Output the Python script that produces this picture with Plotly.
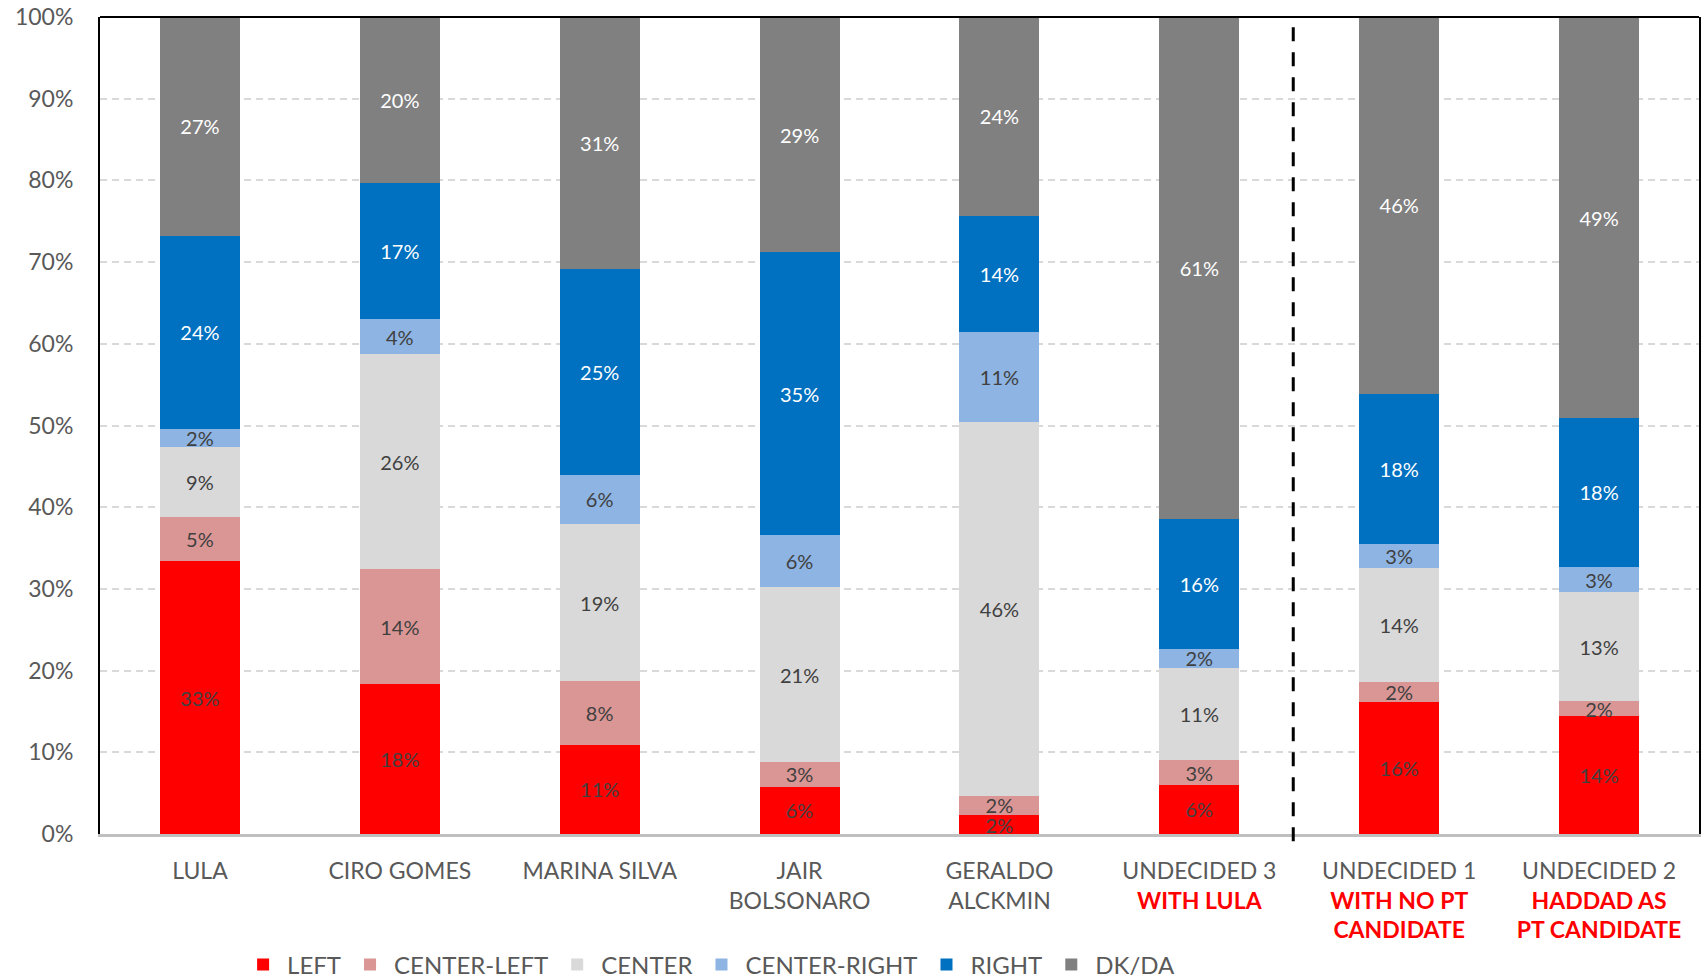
import plotly.graph_objects as go

# categorias (eixo x) - texto com sublinha em vermelho para os "undecided"
categories = [
    "LULA",
    "CIRO GOMES",
    "MARINA SILVA",
    "JAIR<br>BOLSONARO",
    "GERALDO<br>ALCKMIN",
    "UNDECIDED 3<br><span style='color:#FF0000'><b>WITH LULA</b></span>",
    "UNDECIDED 1<br><span style='color:#FF0000'><b>WITH NO PT<br>CANDIDATE</b></span>",
    "UNDECIDED 2<br><span style='color:#FF0000'><b>HADDAD AS<br>PT CANDIDATE</b></span>",
]

# valores (%)
left = [33.4, 18.3, 10.9, 5.8, 2.3, 6.0, 16.2, 14.4]
center_left = [5.4, 14.1, 7.8, 3.0, 2.4, 3.0, 2.4, 1.9]
center = [8.6, 26.3, 19.2, 21.4, 45.7, 11.3, 13.9, 13.3]
center_right = [2.2, 4.3, 6.1, 6.4, 11.0, 2.4, 3.0, 3.1]
right = [23.6, 16.7, 25.1, 34.6, 14.3, 15.9, 18.4, 18.2]
dk_da = [26.8, 20.3, 30.9, 28.8, 24.3, 61.4, 46.1, 49.1]

y_ticks = list(range(0, 101, 10))
y_ticktext = [f"{t}%" for t in y_ticks]

series = [
    ("LEFT", left, "#FF0000", "#404040"),
    ("CENTER-LEFT", center_left, "#DA9694", "#404040"),
    ("CENTER", center, "#D9D9D9", "#404040"),
    ("CENTER-RIGHT", center_right, "#8DB4E2", "#404040"),
    ("RIGHT", right, "#0070C0", "#FFFFFF"),
    ("DK/DA", dk_da, "#808080", "#FFFFFF"),
]

FONT = "Lato, 'Open Sans', sans-serif"
GRAY = "#595959"

fig = go.Figure()
for name, vals, color, txtcolor in series:
    fig.add_trace(go.Bar(
        x=categories, y=vals, name=name,
        marker=dict(color=color, line=dict(width=0)),
        text=[f"{v:.0f}%" for v in vals],
        textposition="inside",
        insidetextanchor="middle",
        constraintext="none",
        textangle=0,
        cliponaxis=False,
        textfont=dict(family=FONT, size=20, color=txtcolor),
        hoverinfo="skip",
    ))

# linha tracejada separando os cenários
fig.add_shape(type="line", xref="x", yref="paper", x0=5.47, x1=5.47, y0=-0.009, y1=1,
              line=dict(color="black", width=3, dash="14px,11px"))
# borda superior
fig.add_shape(type="line", xref="paper", yref="paper", x0=0, x1=1, y0=1, y1=1,
              line=dict(color="black", width=2))

fig.update_layout(
    barmode="stack",
    bargap=0.6,
    width=1701, height=978,
    margin=dict(l=100, r=2, t=17, b=144),
    paper_bgcolor="white",
    plot_bgcolor="white",
    font=dict(family=FONT, color=GRAY, size=23),
    # legenda posicionada pelo container, para não empurrar a margem inferior
    legend=dict(
        orientation="h", x=0.087, xanchor="left",
        yref="container", y=0.0135, yanchor="middle",
        font=dict(family=FONT, size=24, color=GRAY),
        traceorder="normal", itemwidth=38,
    ),
    yaxis=dict(
        range=[0, 100], tickvals=y_ticks, ticktext=y_ticktext,
        showgrid=True, gridcolor="#D9D9D9", griddash="7px,5px", gridwidth=1.5,
        showline=True, linecolor="black", linewidth=2, mirror=True,
        zeroline=False, ticks="", ticklabelstandoff=20, automargin=False,
        tickfont=dict(family=FONT, size=23, color=GRAY),
    ),
    xaxis=dict(
        showline=True, linecolor="#BFBFBF", linewidth=3,
        ticks="", ticklabelstandoff=14, tickangle=0, automargin=False,
        tickfont=dict(family=FONT, size=23, color=GRAY),
    ),
)

# figura fixa no canto da janela (sem margem do body)
js = ("document.body.style.margin='0';"
      "var d=document.querySelector('.plotly-graph-div');"
      "d.style.position='fixed';d.style.top='0';d.style.left='0';")
fig.write_html("out.html", config={"displayModeBar": False}, post_script=js)
